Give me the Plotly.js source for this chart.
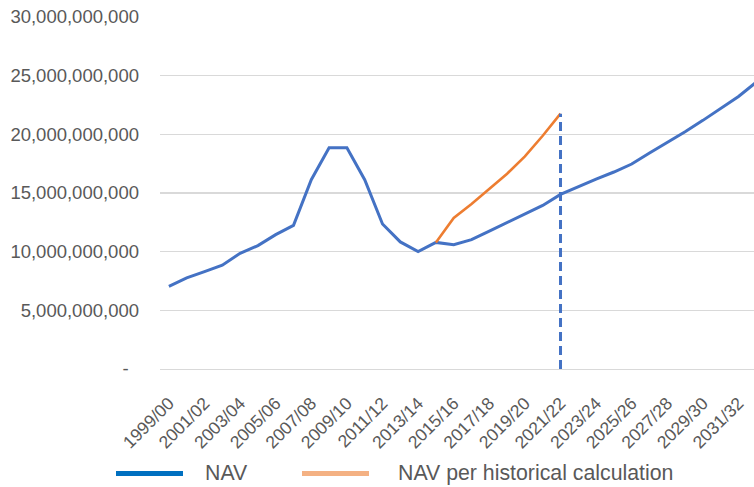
<!DOCTYPE html>
<html>
<head>
<meta charset="utf-8">
<script src="https://cdn.plot.ly/plotly-3.0.1.min.js"></script>
<style>
  html, body { margin: 0; padding: 0; background: #fff; }
  #chart { width: 754px; height: 487px; }
</style>
</head>
<body>
<div id="chart"></div>
<script>
// Financial years on the category axis
const years = [
  '1999/00', '2000/01', '2001/02', '2002/03', '2003/04', '2004/05', '2005/06',
  '2006/07', '2007/08', '2008/09', '2009/10', '2010/11', '2011/12', '2012/13',
  '2013/14', '2014/15', '2015/16', '2016/17', '2017/18', '2018/19', '2019/20',
  '2020/21', '2021/22', '2022/23', '2023/24', '2024/25', '2025/26', '2026/27',
  '2027/28', '2028/29', '2029/30', '2030/31', '2031/32', '2032/33'
];

// Net asset value, actual and projected
const nav = [
  7040000000, 7760000000, 8300000000, 8850000000, 9860000000, 10520000000,
  11450000000, 12240000000, 16130000000, 18860000000, 18860000000, 16130000000,
  12360000000, 10830000000, 10000000000, 10790000000, 10600000000, 11020000000,
  11750000000, 12480000000, 13270000000, 13940000000, 14880000000, 15560000000,
  16190000000, 16790000000, 17470000000, 18410000000, 19310000000, 20220000000,
  21190000000, 22210000000, 23230000000, 24450000000
];

// NAV under the historical calculation method
const histYears = ['2014/15', '2015/16', '2016/17', '2017/18', '2018/19', '2019/20', '2020/21', '2021/22'];
const navHistorical = [
  10790000000, 12870000000, 14060000000, 15340000000, 16640000000,
  18120000000, 19880000000, 21760000000
];

// Marker for the current year
const cutoffYear = '2021/22';

// Axis labels
const xTickYears = years.filter((_, i) => i % 2 === 0);
const yTickValues = [0, 5e9, 10e9, 15e9, 20e9, 25e9, 30e9];
const yTickText = ['-\u00a0\u00a0', '5,000,000,000', '10,000,000,000', '15,000,000,000',
  '20,000,000,000', '25,000,000,000', '30,000,000,000'];

// Legend entries
const legendNames = ['NAV', 'NAV per historical calculation'];

const FONT = 'Liberation Sans, Arial, sans-serif';
const GREY = '#595959';

const traces = [
  {
    x: years, y: nav, type: 'scatter', mode: 'lines',
    line: { color: '#4472C4', width: 3 },
    showlegend: false, hoverinfo: 'x+y'
  },
  {
    x: histYears, y: navHistorical, type: 'scatter', mode: 'lines',
    line: { color: '#ED7D31', width: 2.6 },
    showlegend: false, hoverinfo: 'x+y'
  },
  {
    x: [cutoffYear, cutoffYear],
    y: [0, navHistorical[navHistorical.length - 1]],
    type: 'scatter', mode: 'lines',
    line: { color: '#4472C4', width: 3, dash: '9px,5px' },
    showlegend: false, hoverinfo: 'skip'
  }
];

// Plot-area geometry used to place the legend below the axis
const plotLeft = 160, plotWidth = 594, plotBottom = 369, plotHeight = 352;
const px = v => (v - plotLeft) / plotWidth;
const py = v => (plotBottom - v) / plotHeight;

const legendY = 473.5;
const shapes = [
  { type: 'line', xref: 'paper', yref: 'paper', x0: px(116), x1: px(183), y0: py(legendY), y1: py(legendY),
    line: { color: '#0070C0', width: 5 } },
  { type: 'line', xref: 'paper', yref: 'paper', x0: px(302), x1: px(369), y0: py(legendY), y1: py(legendY),
    line: { color: '#F4B183', width: 5 } }
];
const annotations = [
  { xref: 'paper', yref: 'paper', x: px(203), y: py(legendY - 1), xanchor: 'left', yanchor: 'middle',
    text: legendNames[0], showarrow: false, font: { family: FONT, size: 21.3, color: GREY } },
  { xref: 'paper', yref: 'paper', x: px(396), y: py(legendY - 1), xanchor: 'left', yanchor: 'middle',
    text: legendNames[1], showarrow: false, font: { family: FONT, size: 21.3, color: GREY } }
];

const layout = {
  width: 754, height: 487,
  margin: { l: plotLeft, r: 0, t: 17, b: 118, pad: 0 },
  paper_bgcolor: '#ffffff', plot_bgcolor: '#ffffff',
  font: { family: FONT, color: GREY },
  showlegend: false,
  xaxis: {
    type: 'category',
    categoryorder: 'array', categoryarray: years,
    range: [-0.5, 32.87],
    tickmode: 'array', tickvals: xTickYears, ticktext: xTickYears,
    tickangle: -45,
    tickfont: { family: FONT, size: 17.5, color: GREY },
    ticks: '', ticklabelstandoff: 16,
    showgrid: false, zeroline: false,
    showline: true, linecolor: '#D9D9D9', linewidth: 1.3,
    fixedrange: true
  },
  yaxis: {
    range: [0, 30e9],
    tickmode: 'array', tickvals: yTickValues, ticktext: yTickText,
    tickfont: { family: FONT, size: 18.5, color: GREY },
    ticks: '', ticklabelstandoff: 20,
    showgrid: true, gridcolor: '#D9D9D9', gridwidth: 1.3,
    zeroline: false, showline: false,
    fixedrange: true
  },
  shapes: shapes,
  annotations: annotations
};

Plotly.newPlot('chart', traces, layout, { displayModeBar: false, staticPlot: true });
</script>
</body>
</html>
